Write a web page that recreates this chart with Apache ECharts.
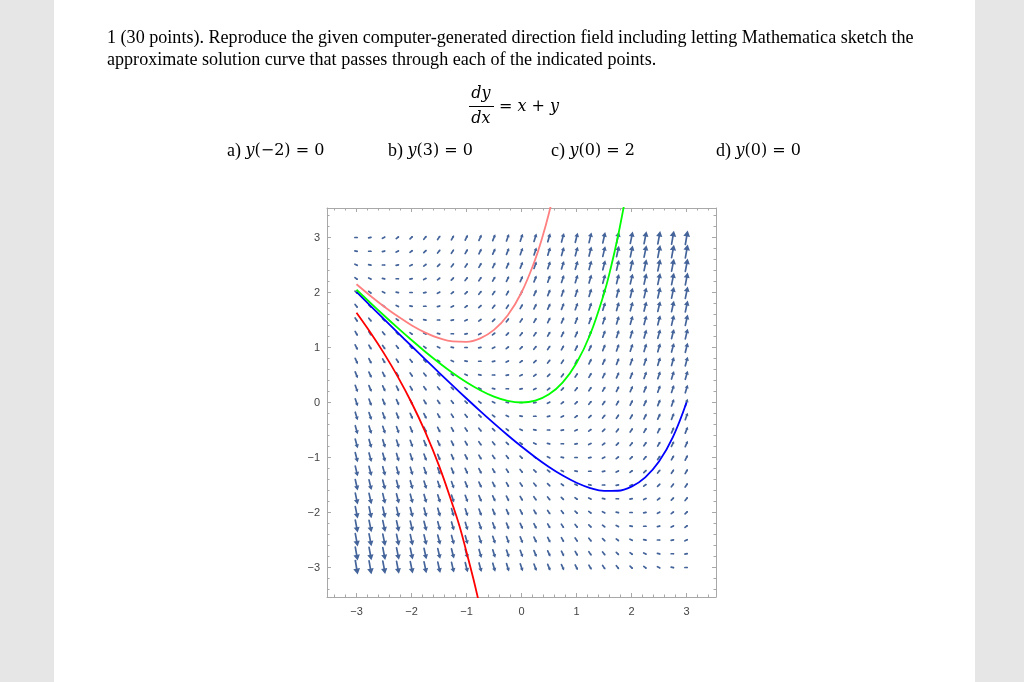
<!DOCTYPE html>
<html>
<head>
<meta charset="utf-8">
<script src="https://cdn.jsdelivr.net/npm/echarts@6/dist/echarts.min.js"></script>
<style>html,body{margin:0;padding:0;background:#fff}#c{width:1024px;height:682px}</style>
</head>
<body>
<div id="c"></div>
<script>
// Direction field grid (VectorPlot sample points)
var fieldX = [-3,-2.75,-2.5,-2.25,-2,-1.75,-1.5,-1.25,-1,-0.75,-0.5,-0.25,0,0.25,0.5,0.75,1,1.25,1.5,1.75,2,2.25,2.5,2.75,3];
var fieldY = [-3,-2.75,-2.5,-2.25,-2,-1.75,-1.5,-1.25,-1,-0.75,-0.5,-0.25,0,0.25,0.5,0.75,1,1.25,1.5,1.75,2,2.25,2.5,2.75,3];
// the equation of the field: dy/dx = x + y
function slope(x, y) { return x + y; }

// Solution curves
var curveA = [[-3,1.6321],[-2.75,1.2776],[-2.5,0.8935],[-2.25,0.4712],[-2,0],[-1.75,-0.534],[-1.5,-1.1487],[-1.25,-1.867],[-1.125,-2.2552],[-1,-2.7183],[-0.875,-3.2052],[-0.75,-3.7403]];
var curveB = [[-3,2.0099],[-2.75,1.7627],[-2.5,1.5163],[-2.25,1.271],[-2,1.027],[-1.75,0.7846],[-1.5,0.5444],[-1.25,0.3071],[-1,0.0733],[-0.75,-0.1559],[-0.5,-0.3792],[-0.25,-0.5949],[0,-0.8009],[0.25,-0.9943],[0.5,-1.1717],[0.75,-1.3284],[1,-1.4587],[1.25,-1.5549],[1.5,-1.6075],[1.75,-1.604],[2,-1.5285],[2.25,-1.3605],[2.5,-1.0739],[2.75,-0.6348],[3,0]];
var curveC = [[-3,2.1494],[-2.75,1.9418],[-2.5,1.7463],[-2.25,1.5662],[-2,1.406],[-1.75,1.2713],[-1.5,1.1694],[-1.25,1.1095],[-1,1.1036],[-0.75,1.1671],[-0.5,1.3196],[-0.25,1.5864],[0,2],[0.25,2.6021],[0.375,2.99],[0.5,3.4462],[0.625,3.9797]];
var curveD = [[-3,2.0498],[-2.75,1.8139],[-2.5,1.5821],[-2.25,1.3554],[-2,1.1353],[-1.75,0.9238],[-1.5,0.7231],[-1.25,0.5365],[-1,0.3679],[-0.75,0.2224],[-0.5,0.1065],[-0.25,0.0288],[0,0],[0.25,0.034],[0.5,0.1487],[0.75,0.367],[1,0.7183],[1.25,1.2403],[1.5,1.9817],[1.625,2.4534],[1.75,3.0046],[1.875,3.6458]];

var majorTicks = [-3,-2,-1,0,1,2,3];
var minorTicks = [-3.4,-3.2,-2.8,-2.6,-2.4,-2.2,-1.8,-1.6,-1.4,-1.2,-0.8,-0.6,-0.4,-0.2,0.2,0.4,0.6,0.8,1.2,1.4,1.6,1.8,2.2,2.4,2.6,2.8,3.2,3.4];
var axisMin = -3.536, axisMax = 3.536;

var fieldData = [];
fieldX.forEach(function (x) { fieldY.forEach(function (y) { fieldData.push([x, y, slope(x, y)]); }); });
var maxMag = 0;
fieldData.forEach(function (d) { maxMag = Math.max(maxMag, Math.sqrt(1 + d[2] * d[2])); });

var frameColor = '#a8a8a8';
var arrowColor = '#44649a';
function fmt(v) { return v < 0 ? '\u2212' + (-v) : String(v); }

function mkX(pos, major, labels) {
  return {
    type: 'value', min: axisMin, max: axisMax, position: pos,
    axisLine: { show: major, onZero: false, lineStyle: { color: frameColor, width: 1 } },
    splitLine: { show: false },
    axisTick: { show: true, inside: true, length: major ? 4 : 2.5, customValues: major ? majorTicks : minorTicks, lineStyle: { color: frameColor } },
    axisLabel: { show: labels, customValues: majorTicks, formatter: fmt, color: '#444', fontSize: 11, fontFamily: 'Liberation Sans', margin: 9 }
  };
}
function mkY(pos, major, labels) {
  var a = mkX(pos, major, labels);
  a.axisLabel.margin = 7;
  return a;
}

var serif = '"Liberation Serif", "Times New Roman", serif';
var math = '"DejaVu Serif", serif';
var rich = {
  t: { fontSize: 18, fontFamily: serif },
  i: { fontStyle: 'italic', fontSize: 16, fontFamily: math },
  m: { fontSize: 16, fontFamily: math }
};

var option = {
  backgroundColor: '#ffffff',
  animation: false,
  grid: { left: 327, top: 208, width: 389, height: 389, containLabel: false },
  xAxis: [mkX('bottom', true, true), mkX('bottom', false, false), mkX('top', true, false), mkX('top', false, false)],
  yAxis: [mkY('left', true, true), mkY('left', false, false), mkY('right', true, false), mkY('right', false, false)],
  graphic: [
    { type: 'rect', silent: true, z: -10, shape: { x: 0, y: 0, width: 54, height: 682 }, style: { fill: '#e6e6e6' } },
    { type: 'rect', silent: true, z: -10, shape: { x: 975, y: 0, width: 49, height: 682 }, style: { fill: '#e6e6e6' } },
    { type: 'text', x: 107, y: 38, style: { text: '1 (30 points). Reproduce the given computer-generated direction field including letting Mathematica sketch the', font: '18.1px ' + serif, fill: '#000', verticalAlign: 'middle' } },
    { type: 'text', x: 107, y: 60, style: { text: 'approximate solution curve that passes through each of the indicated points.', font: '18.1px ' + serif, fill: '#000', verticalAlign: 'middle' } },
    { type: 'text', x: 481, y: 94, style: { text: 'dy', font: 'italic 16px ' + math, fill: '#000', align: 'center', verticalAlign: 'middle' } },
    { type: 'line', shape: { x1: 469, y1: 106.5, x2: 494, y2: 106.5 }, style: { stroke: '#000', lineWidth: 1 } },
    { type: 'text', x: 481, y: 119, style: { text: 'dx', font: 'italic 16px ' + math, fill: '#000', align: 'center', verticalAlign: 'middle' } },
    { type: 'text', x: 499, y: 107, style: { text: '{m|= }{i|x}{m| + }{i|y}', fill: '#000', verticalAlign: 'middle', rich: rich } },
    { type: 'text', x: 227, y: 151, style: { text: '{t|a) }{i|y}{m|(\u22122) = 0}', fill: '#000', verticalAlign: 'middle', rich: rich } },
    { type: 'text', x: 388, y: 151, style: { text: '{t|b) }{i|y}{m|(3) = 0}', fill: '#000', verticalAlign: 'middle', rich: rich } },
    { type: 'text', x: 551, y: 151, style: { text: '{t|c) }{i|y}{m|(0) = 2}', fill: '#000', verticalAlign: 'middle', rich: rich } },
    { type: 'text', x: 716, y: 151, style: { text: '{t|d) }{i|y}{m|(0) = 0}', fill: '#000', verticalAlign: 'middle', rich: rich } }
  ],
  series: [
    {
      type: 'custom', name: 'field', z: 1, silent: true,
      data: fieldData,
      encode: { x: 0, y: 1 },
      renderItem: function (params, api) {
        var x = api.value(0), y = api.value(1), s = api.value(2);
        var c = api.coord([x, y]);
        var p = api.coord([x + 1, y + s]);
        var dx = p[0] - c[0], dy = p[1] - c[1];
        var d = Math.sqrt(dx * dx + dy * dy);
        var ux = dx / d, uy = dy / d;
        var mag = Math.sqrt(1 + s * s);
        var L = 3.2 + (mag - 1) / (maxMag - 1) * 11;
        var hl = 0.42 * L, hw = 0.24 * L;
        var tx = c[0] + ux * L / 2, ty = c[1] + uy * L / 2;
        var sx = c[0] - ux * L / 2, sy = c[1] - uy * L / 2;
        var bx = tx - ux * hl, by = ty - uy * hl;
        var nx = -uy, ny = ux;
        return {
          type: 'group',
          children: [
            { type: 'line', shape: { x1: sx, y1: sy, x2: bx + ux * hl * 0.3, y2: by + uy * hl * 0.3 }, style: { stroke: arrowColor, lineWidth: 1.7, lineCap: 'round' } },
            { type: 'polygon', shape: { points: [[tx, ty], [bx + nx * hw, by + ny * hw], [bx - nx * hw, by - ny * hw]] }, style: { fill: arrowColor } }
          ]
        };
      }
    },
    { type: 'line', name: 'a', data: curveA, showSymbol: false, smooth: 0.4, clip: true, z: 3, lineStyle: { color: '#ff0000', width: 1.8 } },
    { type: 'line', name: 'b', data: curveB, showSymbol: false, smooth: 0.4, clip: true, z: 3, lineStyle: { color: '#0000ff', width: 1.8 } },
    { type: 'line', name: 'c', data: curveC, showSymbol: false, smooth: 0.4, clip: true, z: 3, lineStyle: { color: '#ff8080', width: 1.8 } },
    { type: 'line', name: 'd', data: curveD, showSymbol: false, smooth: 0.4, clip: true, z: 3, lineStyle: { color: '#00ff00', width: 1.8 } }
  ]
};
var chart = echarts.init(document.getElementById('c'), null, { renderer: 'canvas' });
chart.setOption(option);
</script>
</body>
</html>
